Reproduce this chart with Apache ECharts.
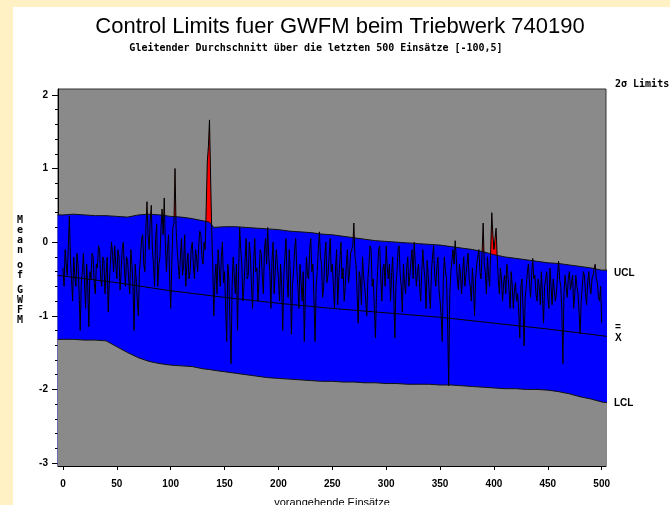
<!DOCTYPE html>
<html>
<head>
<meta charset="utf-8">
<script src="https://cdn.jsdelivr.net/npm/echarts@6/dist/echarts.min.js"></script>
<style>
  html, body { margin: 0; padding: 0; background: #fff1c4; }
  #chart { width: 670px; height: 505px; }
</style>
</head>
<body>
<div id="chart"></div>
<script>
// gleitender Mittelwert je Einsatz (Einsatz 0..500)
const gwfm = [
  -0.35, -0.6, -0.1, -0.3, -0.45, -0.05, 0.35, -0.25, -0.5, -0.8, -0.2, -0.45, -0.6, -0.15, -0.3, -0.7, -1.2, -0.55, -0.4, -0.15,
  -0.55, -0.9, -0.3, -0.6, -1.15, -0.4, -0.5, -0.15, -0.2, -0.55, -0.7, -0.3, -0.35, -0.05, -0.1, -0.5, -0.6, -0.2, -0.25, -0.7,
  -0.45, -0.2, -0.95, -0.55, -0.3, 0.0, -0.15, -0.4, -0.05, -0.3, -0.5, -0.1, -0.2, -0.65, -0.4, -0.1, 0.0, -0.35, -0.6, -0.2,
  -0.25, -0.5, -0.7, -0.1, -0.3, -0.6, -1.2, -0.3, -0.5, -0.8, -1.0, -0.4, -0.2, 0.05, 0.1, -0.3, -0.4, 0.2, 0.55, 0.1,
  -0.1, 0.3, 0.5, -0.1, -0.3, -0.6, 0.05, 0.25, -0.6, -0.3, -0.2, 0.2, 0.45, 0.1, 0.6, 0.0, -0.4, -0.1, 0.1, -0.5,
  -0.9, -0.3, 0.2, 0.25, 1.0, 0.2, -0.1, -0.3, -0.5, -0.2, 0.05, -0.45, -0.3, 0.1, -0.6, -0.3, -0.15, -0.5, -0.4, -0.1,
  0.0, -0.3, -0.5, -0.1, -0.2, -0.4, -0.05, 0.15, 0.1, -0.2, -0.3, 0.0, -0.1, 0.5, 1.1, 1.3, 1.66, 0.9, 0.2, -0.3,
  -1.0, -0.5, -0.3, -0.7, -0.1, -0.35, -0.6, -0.2, 0.0, -0.55, -0.4, -0.9, -1.35, -0.3, -0.5, -1.1, -1.65, -0.6, -0.2, -0.45,
  -0.7, -0.3, -1.2, -0.4, 0.2, -0.1, -0.3, -0.8, -0.6, -0.25, 0.05, -0.5, -0.45, 0.0, -0.2, -0.6, -0.9, -0.3, 0.05, -0.4,
  -0.35, -0.8, -0.5, -0.1, -0.15, -0.45, -0.7, -0.1, 0.05, -0.3, 0.2, -0.2, -0.4, -0.9, -0.25, 0.0, -0.7, -0.4, -0.1, -0.3,
  -0.5, -0.8, -0.3, -0.6, -1.2, -0.45, -0.2, 0.05, -0.5, -0.75, -0.1, -0.4, -1.25, -0.6, -0.4, -0.1, 0.05, -0.35, -0.6, -0.9,
  -0.3, -0.55, -0.8, -0.4, -1.35, -0.7, -0.2, -0.45, -0.5, -0.1, 0.05, -0.4, -0.3, -0.8, -1.35, -0.6, -0.4, -0.1, 0.14, -0.2,
  -0.3, -0.75, -0.6, -0.2, 0.0, -0.55, -0.45, -0.2, 0.05, -0.4, -0.3, -0.6, -0.9, -0.35, -0.1, -0.85, -0.5, -0.25, 0.0, -0.5,
  -0.35, -0.8, -0.6, -0.3, -0.1, -0.55, -0.4, -0.15, -0.1, -0.05, 0.26, -0.2, -0.3, -0.7, -1.1, -0.4, -0.5, -0.85, -0.2, -0.45,
  -0.6, -0.8, -1.0, -0.5, -0.3, -0.05, -0.1, -0.6, -0.5, -0.9, -1.3, -0.7, -0.4, -0.1, -0.05, -0.5, -0.8, -0.35, -0.3, -0.6,
  -0.05, -0.35, -0.5, -0.3, -0.8, -0.45, -0.2, -0.7, -1.3, -0.6, -0.4, -0.1, -0.05, -0.45, -0.6, -0.95, -0.3, -0.55, -0.7, -0.35,
  -0.2, -0.6, -0.45, -0.25, -0.1, -0.5, 0.0, -0.3, -0.6, -0.4, -0.3, -0.6, -0.8, -0.4, -0.1, -0.35, -0.5, -0.9, -0.25, -0.45,
  -0.7, -0.9, -0.4, -0.2, -0.05, -0.45, -0.6, -0.35, -0.2, -0.65, -0.8, -1.0, -1.35, -0.5, -0.2, -0.4, -0.5, -1.1, -1.95, -0.7,
  -0.4, -0.25, -0.1, -0.3, 0.02, -0.2, -0.5, -0.65, -0.3, -0.45, -0.7, -0.4, -0.2, -0.6, -0.45, -0.3, -0.15, -0.5, -0.6, -0.8,
  -0.35, -0.6, -1.0, -0.5, -0.3, -0.2, -0.1, -0.4, -0.5, -0.15, 0.26, -0.3, -0.4, -0.7, -0.2, -0.45, -0.6, -0.1, 0.4, 0.1,
  -0.1, 0.05, 0.19, -0.2, -0.5, -0.7, -0.35, -0.5, -0.8, -0.55, -0.45, -0.7, -0.3, -0.45, -0.65, -0.9, -0.4, -0.6, -0.9, -0.65,
  -0.55, -0.8, -0.7, -0.95, -1.3, -0.6, -0.5, -0.9, -1.41, -0.75, -0.6, -0.4, -0.3, -0.55, -0.75, -0.45, -0.22, -0.5, -0.45, -0.7,
  -0.8, -0.5, -0.6, -0.85, -0.4, -0.7, -1.1, -0.6, -0.5, -0.4, -0.75, -0.9, -0.35, -0.6, -0.85, -0.5, -0.5, -0.8, -0.7, -0.45,
  -0.26, -0.5, -0.6, -0.9, -1.65, -0.7, -0.45, -0.6, -0.75, -0.5, -0.4, -0.65, -0.65, -0.45, -0.9, -0.7, -0.45, -0.6, -0.7, -0.95,
  -1.24, -0.8, -0.6, -0.4, -0.45, -0.7, -0.85, -0.55, -0.4, -0.6, -0.7, -0.5, -0.45, -0.35, -0.3, -0.5, -0.55, -0.75, -0.8, -0.6,
  -1.1
]

// Kontrollgrenzen (2 sigma)
const limX = [-5, 0, 10, 20, 30, 40, 50, 60, 70, 80, 90, 100, 110, 120, 130, 136, 140, 150, 160, 170, 180, 190,
  200, 210, 220, 230, 240, 250, 260, 270, 280, 290, 300, 310, 320, 330, 340, 350, 360, 370, 380, 390,
  400, 410, 420, 430, 440, 450, 460, 470, 480, 490, 500, 505]
const ucl = [0.37, 0.37, 0.38, 0.37, 0.36, 0.36, 0.35, 0.34, 0.37, 0.38, 0.37, 0.35, 0.34, 0.32, 0.29, 0.27, 0.2, 0.21, 0.21, 0.2, 0.19, 0.18,
  0.17, 0.15, 0.14, 0.13, 0.11, 0.1, 0.08, 0.06, 0.04, 0.02, 0.01, 0.0, -0.01, -0.02, -0.03, -0.04, -0.06, -0.08, -0.1, -0.13,
  -0.17, -0.2, -0.22, -0.24, -0.26, -0.28, -0.29, -0.31, -0.33, -0.35, -0.38, -0.38]
const lcl = [-1.32, -1.32, -1.32, -1.33, -1.33, -1.34, -1.42, -1.5, -1.57, -1.62, -1.65, -1.67, -1.68, -1.69, -1.72, -1.73, -1.74, -1.76, -1.78, -1.8, -1.82, -1.84,
  -1.85, -1.86, -1.87, -1.88, -1.89, -1.89, -1.9, -1.9, -1.91, -1.91, -1.92, -1.92, -1.93, -1.93, -1.93, -1.94, -1.94, -1.95, -1.96, -1.97,
  -1.98, -1.99, -1.99, -2.0, -2.0, -2.01, -2.03, -2.06, -2.1, -2.13, -2.17, -2.18]

// Mittellinie (X quer quer)
const cenX = [-5, 0, 50, 100, 150, 200, 250, 300, 350, 400, 450, 500, 505]
const center = [-0.45, -0.46, -0.55, -0.66, -0.75, -0.83, -0.9, -0.96, -1.02, -1.1, -1.18, -1.27, -1.28]

const xTicks = [0, 50, 100, 150, 200, 250, 300, 350, 400, 450, 500]
const yTicks = [-3, -2, -1, 0, 1, 2]
const yMinor = [-3, -2.8, -2.6, -2.4, -2.2, -2, -1.8, -1.6, -1.4, -1.2, -1, -0.8, -0.6, -0.4, -0.2, 0,
  0.2, 0.4, 0.6, 0.8, 1, 1.2, 1.4, 1.6, 1.8, 2]

const pts = gwfm.map((v, i) => [i, v])
const uclPts = limX.map((x, i) => [x, ucl[i]])
const lclPts = limX.map((x, i) => [x, lcl[i]])
const cenPts = cenX.map((x, i) => [x, center[i]])

const chart = echarts.init(document.getElementById('chart'))

const tickFont = { fontFamily: 'Liberation Sans', fontWeight: 'bold', fontSize: 10, color: '#000' }
const monoBold = { fontFamily: 'DejaVu Sans Mono', fontWeight: 'bold', fontSize: 10, fill: '#000' }
const sideFont = { fontFamily: 'Liberation Sans', fontWeight: 'bold', fontSize: 10, fill: '#000', verticalAlign: 'middle' }

const option = {
  backgroundColor: '#fff1c4',
  animation: false,
  grid: {
    left: 58, top: 89, right: 64, bottom: 39, outerBoundsMode: 'none',
    show: true, backgroundColor: '#8a8a8a', borderColor: '#333', borderWidth: 1
  },
  xAxis: {
    type: 'value', min: -4.6, max: 504,
    name: 'vorangehende Einsätze', nameLocation: 'middle', nameGap: 31,
    nameTextStyle: { fontFamily: 'Liberation Sans', fontSize: 11, color: '#000' },
    axisLine: { onZero: false, lineStyle: { color: '#000' } },
    axisTick: { customValues: xTicks, length: 4, lineStyle: { color: '#000' } },
    axisLabel: Object.assign({ customValues: xTicks, margin: 13 }, tickFont),
    splitLine: { show: false }
  },
  yAxis: [{
    type: 'value', min: -3.04, max: 2.08,
    axisLine: { show: true, onZero: false, lineStyle: { color: '#000' } },
    axisTick: { customValues: yTicks, length: 6, lineStyle: { color: '#000' } },
    axisLabel: Object.assign({ customValues: yTicks, margin: 10 }, tickFont),
    splitLine: { show: false }
  }, {
    type: 'value', min: -3.04, max: 2.08, position: 'left',
    axisLine: { show: false, onZero: false },
    axisTick: { customValues: yMinor, length: 3, lineStyle: { color: '#000' } },
    axisLabel: { show: false },
    splitLine: { show: false }
  }],
  series: [
    {
      // rote Flaeche oberhalb UCL (wird darunter von blau verdeckt)
      type: 'line', data: pts, symbol: 'none', z: 1,
      lineStyle: { width: 0 }, areaStyle: { color: '#ff0000', opacity: 1, origin: 'start' }
    },
    {
      type: 'line', data: uclPts, symbol: 'none', z: 2,
      lineStyle: { color: '#111', width: 1 }, areaStyle: { color: '#0000ff', opacity: 1, origin: 'start' }
    },
    {
      type: 'line', data: lclPts, symbol: 'none', z: 3,
      lineStyle: { color: '#111', width: 1 }, areaStyle: { color: '#8a8a8a', opacity: 1, origin: 'start' }
    },
    {
      type: 'line', data: pts, symbol: 'none', z: 4,
      lineStyle: { color: '#000', width: 1 }
    },
    {
      type: 'line', data: cenPts, symbol: 'none', z: 5,
      lineStyle: { color: '#000', width: 1 }
    }
  ],
  graphic: [
    { type: 'rect', z: -10, shape: { x: 13, y: 7, width: 657, height: 498 }, style: { fill: '#fff' } },
    { type: 'text', x: 340, y: 27, style: { text: 'Control Limits fuer GWFM beim Triebwerk 740190', fontFamily: 'Liberation Sans', fontSize: 22, fill: '#000', align: 'center', verticalAlign: 'middle' } },
    { type: 'text', x: 316, y: 48, style: Object.assign({ text: 'Gleitender Durchschnitt über die letzten 500 Einsätze [-100,5]', align: 'center', verticalAlign: 'middle' }, monoBold) },
    { type: 'text', x: 615, y: 84, style: Object.assign({ text: '2σ Limits', verticalAlign: 'middle' }, monoBold) },
    { type: 'text', x: 614, y: 273, style: Object.assign({ text: 'UCL' }, sideFont) },
    { type: 'text', x: 615, y: 327, style: Object.assign({ text: '=' }, sideFont) },
    { type: 'text', x: 615, y: 338, style: Object.assign({ text: 'X' }, sideFont) },
    { type: 'text', x: 614, y: 403, style: Object.assign({ text: 'LCL' }, sideFont) },
    { type: 'text', x: 20, y: 215, style: Object.assign({ text: 'M\ne\na\nn', align: 'center', lineHeight: 10 }, monoBold) },
    { type: 'text', x: 20, y: 260, style: Object.assign({ text: 'o\nf', align: 'center', lineHeight: 10 }, monoBold) },
    { type: 'text', x: 20, y: 285, style: Object.assign({ text: 'G\nW\nF\nM', align: 'center', lineHeight: 10 }, monoBold) }
  ]
}

chart.setOption(option)
</script>
</body>
</html>
